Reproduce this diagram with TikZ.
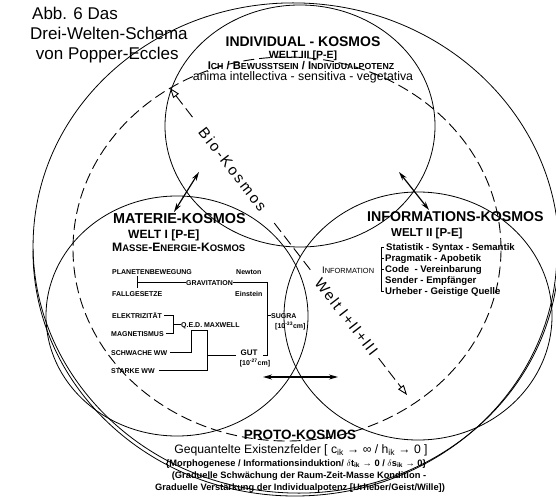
\documentclass[tikz,border=0pt]{standalone}
\usepackage{fontspec}
\setmainfont{Liberation Sans}
\usepackage{graphicx}
\usetikzlibrary{arrows.meta,calc}
\newcommand{\lc}[1]{\scalebox{0.78}{#1}}
\begin{document}
\begin{tikzpicture}[x=1pt,y=-1pt,
  circ/.style={line width=0.8pt},
  dashcirc/.style={line width=0.9pt,dash pattern=on 11pt off 5pt},
  lbl/.style={inner sep=0pt,anchor=west,text height=0.72em,text depth=0pt},
  clbl/.style={inner sep=0pt,anchor=center,text height=0.72em,text depth=0pt},
  tree/.style={line width=0.6pt},
  dbl/.style={line width=1.2pt,{Stealth[length=9pt,width=5pt]}-{Stealth[length=9pt,width=5pt]}},
  opentip/.style={line width=0.9pt,dash pattern=on 11pt off 5pt},
  hand/.style={inner sep=0pt,anchor=center}
]
\useasboundingbox (0,0) rectangle (556,497);
% big outer curves (proto-kosmos, traced twice at the bottom)
\draw[circ,rotate around={-4:(296,248)}] (296,248) ellipse [x radius=263pt, y radius=245pt];
\draw[circ] (33,251) arc[start angle=180, end angle=360, x radius=262pt, y radius=245pt];
% three worlds
\draw[circ] (300,126) ellipse [x radius=135pt, y radius=121pt];
\draw[circ] (177,316) ellipse [x radius=131pt, y radius=120pt];
\draw[circ] (418,316) ellipse [x radius=134pt, y radius=124pt];
% bio-kosmos dashed
\draw[dashcirc] (287,249) ellipse [x radius=214pt, y radius=192pt];

% title
\node[lbl,font=\fontsize{17}{17}\selectfont] (t1) at (32,16) {Abb. 6 Das};
\node[lbl,font=\fontsize{17}{17}\selectfont] (t2) at (30,36) {Drei-Welten-Schema};
\node[lbl,font=\fontsize{17}{17}\selectfont] (t3) at (31,56) {\ von Popper-Eccles};

% Individual
\node[clbl,font=\bfseries\fontsize{14}{14}\selectfont] (ind) at (303,43) {INDIVIDUAL - KOSMOS};
\node[clbl,font=\bfseries\fontsize{10.5}{10.5}\selectfont] (w3) at (303,55) {WELT III [P-E]};
\node[clbl,font=\bfseries\fontsize{11.2}{11.2}\selectfont] (ich) at (301,65.5) {I\lc{CH} / B\lc{EWUSSTSEIN} / I\lc{NDIVIDUALPOTENZ}};
\node[clbl,font=\fontsize{12.3}{12.3}\selectfont] (anima) at (303,76.5) {anima intellectiva - sensitiva - vegetativa};

% Materie
\node[lbl,font=\bfseries\fontsize{14.4}{14.4}\selectfont] (mat) at (113,220) {MATERIE-KOSMOS};
\node[lbl,font=\bfseries\fontsize{12}{12}\selectfont] (w1) at (128,235) {WELT I [P-E]};
\node[lbl,font=\bfseries\fontsize{12.2}{12.2}\selectfont] (mek) at (112,248) {M\lc{ASSE}-E\lc{NERGIE}-K\lc{OSMOS}};

\tikzset{tiny/.style={lbl,font=\bfseries\fontsize{7}{7}\selectfont}}
\node[tiny] (plan) at (112,271) {PLANETENBEWEGUNG};
\node[tiny] (fall) at (112,293) {FALLGESETZE};
\node[tiny] (grav) at (186,282) {GRAVITATION};
\node[tiny] (newt) at (236,271) {Newton};
\node[tiny] (einst) at (235,293) {Einstein};
\node[tiny] (elek) at (112,315) {ELEKTRIZITÄT};
\node[tiny] (magn) at (111,333) {MAGNETISMUS};
\node[tiny] (qed) at (181,324) {Q.E.D. MAXWELL};
\node[tiny] (schw) at (111,352) {SCHWACHE WW};
\node[tiny] (stark) at (111,370) {STARKE WW};
\node[clbl,font=\bfseries\fontsize{8}{8}\selectfont] (gut) at (249,352) {GUT};
\node[clbl,font=\bfseries\fontsize{7}{7}\selectfont] (gutl) at (255,362) {[10\textsuperscript{-27}cm]};
\node[tiny] (sugra) at (271,315) {SUGRA};
\node[tiny] (sugl) at (275,325) {[10\textsuperscript{-33}cm]};

\coordinate (pf) at (137,282);
\draw[tree] (137,276) -- (137,288);
\draw[tree] (pf) -- (grav.west);
\coordinate (gv) at (267,282);
\coordinate (gb) at (267,355);
\draw[tree] (grav.east) -- (gv) -- (gb) -- ++(-4,0);
\draw[tree] (267,315) -- (sugra.west);
\coordinate (em) at (173,324);
\draw[tree] (elek.east) ++(2,0) -- (173,315) -- (173,333) -- ($(magn.east)+(2,0)$);
\draw[tree] (em) -- (qed.west);
\coordinate (ew1) at (191,352);
\coordinate (ew2) at (207,330);
\draw[tree] ($(schw.east)+(3,0)$) -- (ew1) -- (191,330) -- (ew2) -- (207,370) -- ($(stark.east)+(4,0)$);
\draw[tree] (207,355) -- (236,355);

% Informations
\node[lbl,font=\bfseries\fontsize{14.2}{14.2}\selectfont] (inf) at (367,218) {INFORMATIONS-KOSMOS};
\node[lbl,font=\bfseries\fontsize{11.5}{11.5}\selectfont] (w2) at (391,233) {WELT II [P-E]};
\node[lbl,font=\fontsize{9.5}{9.5}\selectfont] (infor) at (322,270) {I\lc{NFORMATION}};
\tikzset{inf/.style={lbl,font=\bfseries\fontsize{9.6}{9.6}\selectfont}}
\node[inf] (i1) at (386,247) {Statistik - Syntax - Semantik};
\node[inf] (i2) at (385,258) {Pragmatik - Apobetik};
\node[inf] (i3) at (385,269) {Code\ \ - Vereinbarung};
\node[inf] (i4) at (385,280) {Sender - Empfänger};
\node[inf] (i5) at (385,291) {Urheber - Geistige Quelle};
\draw[tree] (i1.west) ++(-2,0) -- (381,247) -- (381,291) -- ($(i5.west)+(-1,0)$);
\draw[tree] (381,258) -- ($(i2.west)+(-1,0)$);
\draw[tree] (381,269) -- ($(i3.west)+(-1,0)$);

% Proto
\node[clbl,font=\bfseries\fontsize{13.5}{13.5}\selectfont] (proto) at (300,436) {PROTO-KOSMOS};
\node[clbl,font=\fontsize{12.2}{12.2}\selectfont] (geq) at (301,450) {Gequantelte Existenzfelder [ c\textsubscript{ik} → ∞ / h\textsubscript{ik} → 0 ]};
\node[clbl,font=\bfseries\fontsize{9.3}{9.3}\selectfont] (morph) at (296,462.5) {\{Morphogenese / Informationsinduktion/ $\delta$t\textsubscript{ik} → 0 / $\delta$s\textsubscript{ik} → 0\}};
\node[clbl,font=\bfseries\fontsize{9.3}{9.3}\selectfont] (grad1) at (299,474.5) {(Graduelle Schwächung der Raum-Zeit-Masse Kondition -};
\node[clbl,font=\bfseries\fontsize{9.3}{9.3}\selectfont] (grad2) at (300,487) {Graduelle Verstärkung der Individualpotenz [Urheber/Geist/Wille])};

% double arrows
\coordinate (a1s) at (174,212); \coordinate (a1e) at (199,172);
\coordinate (a2s) at (399,172); \coordinate (a2e) at (429,210);
\coordinate (a3s) at (263,377); \coordinate (a3e) at (338,377);
\draw[dbl] (a1s) -- (a1e);
\draw[dbl] (a2s) -- (a2e);
\draw[dbl] (a3s) -- (a3e);

% diagonal Bio-Kosmos / Welt I+II+III
\coordinate (ds) at (170,88);
\coordinate (de) at (407,395);
\draw[opentip,{Triangle[open,length=10pt,width=7pt]}-] (ds) -- ($(ds)!0.10!(de)$);
\draw[opentip] ($(ds)!0.44!(de)$) -- ($(ds)!0.60!(de)$);
\draw[opentip,-{Triangle[open,length=10pt,width=7pt]}] ($(ds)!0.88!(de)$) -- (de);
\node[hand,rotate=-52.3,font=\fontsize{15}{15}\selectfont\addfontfeatures{LetterSpace=15}] (bio) at ($(ds)!0.265!(de)$) {Bio-Kosmos};
\node[hand,rotate=-52.3,font=\fontsize{15}{15}\selectfont\addfontfeatures{LetterSpace=10}] (welt) at ($(ds)!0.745!(de)$) {Welt I+II+III};
\end{tikzpicture}
\end{document}
